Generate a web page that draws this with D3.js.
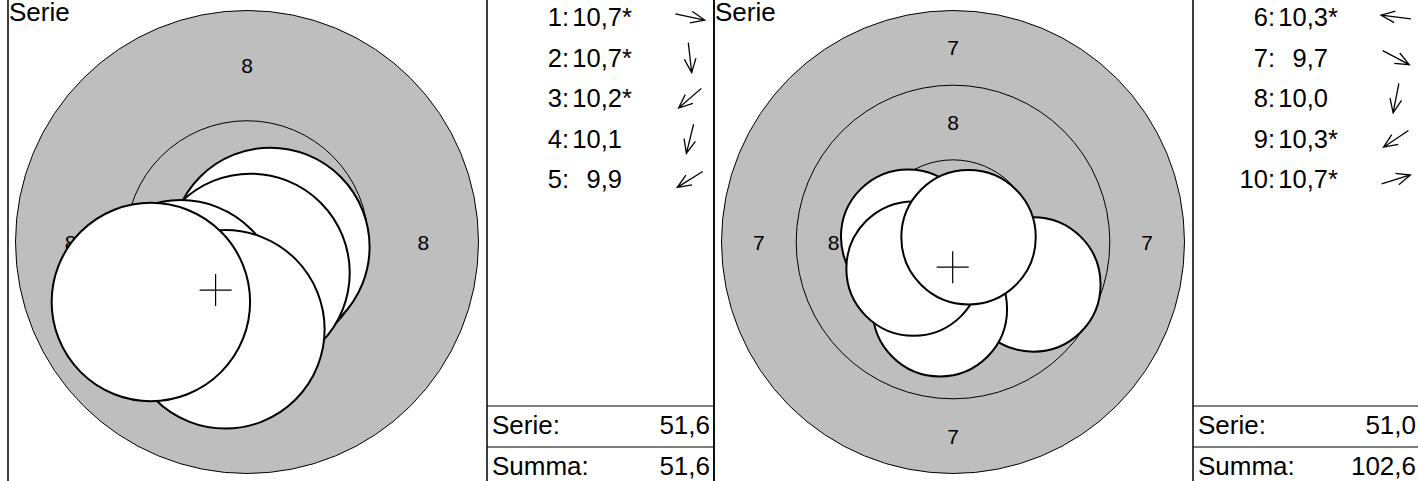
<!DOCTYPE html>
<html>
<head>
<meta charset="utf-8">
<script src="https://cdn.jsdelivr.net/npm/d3@7"></script>
<style>
	body { margin: 0; background: #fff; }
	svg { display: block; font-family: "Liberation Sans", Arial, Helvetica, sans-serif; }
</style>
</head>
<body>
<script>

//shots, position in mm from target centre (x to the right, y upwards)
let shotNo = [1, 2, 3, 4, 5, 6, 7, 8, 9, 10];
let shotSeries = [0, 0, 0, 0, 0, 1, 1, 1, 1, 1];
let shotX = [0.53, 0.08, -1.50, -0.49, -2.18, -1.50, 2.69, -0.44, -1.32, 0.52];
let shotY = [-0.11, -0.70, -1.30, -1.98, -1.36, 0.18, -1.42, -2.25, -0.89, 0.16];
let shotScore = [10.7, 10.7, 10.2, 10.1, 9.9, 10.3, 9.7, 10.0, 10.3, 10.7];
let innerTen = [true, true, true, false, false, true, false, false, true, true];

let seriesOuterRing = [8, 7]; //outermost ring shown for each series

//10m air rifle target, ring radius in mm for rings 1..10
let ringScores = [1, 2, 3, 4, 5, 6, 7, 8, 9, 10];
let ringRadius = [22.75, 20.25, 17.75, 15.25, 12.75, 10.25, 7.75, 5.25, 2.75, 0.25];
let numberedRings = [1, 2, 3, 4, 5, 6, 7, 8];
let pelletRadius = 2.25;

let footerLabels = ["Serie:", "Summa:"];

let W = 1418, H = 481;
let svg = d3.select("body").append("svg")
	.attr("width", W)
	.attr("height", H);

let fmt = d3.formatLocale({ decimal: ",", thousands: " ", grouping: [3], currency: ["", ""] }).format(".1f");

let blockW = 706;
let targetW = 479;
let listW = 227;
let rOuter = 231.5;
let cy = 242;
let rowTop = 26, rowStep = 40.6;
let footTop = 406, footRow = 41;
let grey = "#bebebe";

let shots = shotNo.map((n, i) => ({
	no: n, series: shotSeries[i], x: shotX[i], y: shotY[i], score: shotScore[i], inner: innerTen[i]
}));

let running = 0;

seriesOuterRing.forEach((outer, s) => {
	let blockX = 8 + s * blockW;
	let listX = blockX + targetW;
	let cx = blockX + 239;
	let data = shots.filter(d => d.series === s);

	let R = ringRadius[outer - 1];
	let x = d3.scaleLinear().domain([-R, R]).range([cx - rOuter, cx + rOuter]);
	let y = d3.scaleLinear().domain([-R, R]).range([cy + rOuter, cy - rOuter]);
	let r = d3.scaleLinear().domain([0, R]).range([0, rOuter]);

	let g = svg.append("g");

	//rings
	let rings = ringScores.filter(k => k >= outer);
	g.selectAll("circle.ring")
		.data(rings)
		.enter().append("circle")
		.attr("class", "ring")
		.attr("cx", x(0))
		.attr("cy", y(0))
		.attr("r", k => r(ringRadius[k - 1]))
		.attr("fill", k => k === 10 ? "#fff" : grey)
		.attr("stroke", "#000")
		.attr("stroke-width", 1);

	//ring numbers, top / right / bottom / left
	let labels = [];
	numberedRings.filter(k => k >= outer).forEach(k => {
		let mid = (ringRadius[k - 1] + ringRadius[k]) / 2;
		[[0, 1], [1, 0], [0, -1], [-1, 0]].forEach(([ux, uy]) => labels.push({ k: k, px: ux * mid, py: uy * mid }));
	});
	g.selectAll("text.ringnum")
		.data(labels)
		.enter().append("text")
		.attr("class", "ringnum")
		.attr("x", d => x(d.px))
		.attr("y", d => y(d.py))
		.attr("dy", "0.36em")
		.attr("text-anchor", "middle")
		.attr("font-size", 21)
		.text(d => d.k);

	//shots, later shots on top
	g.selectAll("circle.shot")
		.data(data)
		.enter().append("circle")
		.attr("class", "shot")
		.attr("cx", d => x(d.x))
		.attr("cy", d => y(d.y))
		.attr("r", r(pelletRadius))
		.attr("fill", "#fff")
		.attr("stroke", "#000")
		.attr("stroke-width", 2);

	//centre of the group
	let mx = x(d3.mean(data, d => d.x));
	let my = y(d3.mean(data, d => d.y));
	g.append("path")
		.attr("d", `M${mx - 16},${my}H${mx + 16}M${mx},${my - 16}V${my + 16}`)
		.attr("stroke", "#000")
		.attr("stroke-width", 1.2)
		.attr("fill", "none");

	g.append("text")
		.attr("x", blockX + 1)
		.attr("y", 21)
		.attr("font-size", 26)
		.text("Serie");

	//shot list
	let rows = g.selectAll("g.row")
		.data(data)
		.enter().append("g")
		.attr("class", "row")
		.attr("transform", (d, i) => `translate(${listX}, ${rowTop + i * rowStep})`);

	rows.append("text")
		.attr("x", 82)
		.attr("text-anchor", "end")
		.attr("font-size", 25.5)
		.text(d => d.no + ":");

	rows.append("text")
		.attr("x", 135)
		.attr("text-anchor", "end")
		.attr("font-size", 25.5)
		.text(d => fmt(d.score));

	rows.append("text")
		.attr("x", 135)
		.attr("font-size", 25.5)
		.text(d => d.inner ? "*" : "");

	//direction arrows
	rows.append("path")
		.attr("d", d => {
			let a = Math.atan2(-d.y, d.x);
			let L = 15, hw = 15, ha = 0.4;
			let ax = 203, ay = -9;
			let tx = ax + L * Math.cos(a), ty = ay + L * Math.sin(a);
			let bx = ax - L * Math.cos(a), by = ay - L * Math.sin(a);
			let w1x = tx - hw * Math.cos(a - ha), w1y = ty - hw * Math.sin(a - ha);
			let w2x = tx - hw * Math.cos(a + ha), w2y = ty - hw * Math.sin(a + ha);
			return `M${bx},${by}L${tx},${ty}M${w1x},${w1y}L${tx},${ty}L${w2x},${w2y}`;
		})
		.attr("stroke", "#000")
		.attr("stroke-width", 1.3)
		.attr("fill", "none");

	//footer
	let serieSum = d3.sum(data, d => d.score);
	running += serieSum;
	let footVals = [serieSum, running];

	footerLabels.forEach((lab, i) => {
		let ty = footTop + i * footRow;
		g.append("line")
			.attr("x1", listX).attr("x2", listX + listW)
			.attr("y1", ty).attr("y2", ty)
			.attr("stroke", "#000")
			.attr("stroke-width", 1.2);
		g.append("text")
			.attr("x", listX + 5)
			.attr("y", ty + 27.5)
			.attr("font-size", 26)
			.text(lab);
		g.append("text")
			.attr("x", listX + listW - 4)
			.attr("y", ty + 27.5)
			.attr("text-anchor", "end")
			.attr("font-size", 26)
			.text(fmt(footVals[i]));
	});

	//frame lines
	[blockX, listX, blockX + blockW].forEach(lx => {
		g.append("line")
			.attr("x1", lx).attr("x2", lx)
			.attr("y1", 0).attr("y2", H)
			.attr("stroke", "#000")
			.attr("stroke-width", 1.5);
	});
});

</script>
</body>
</html>
